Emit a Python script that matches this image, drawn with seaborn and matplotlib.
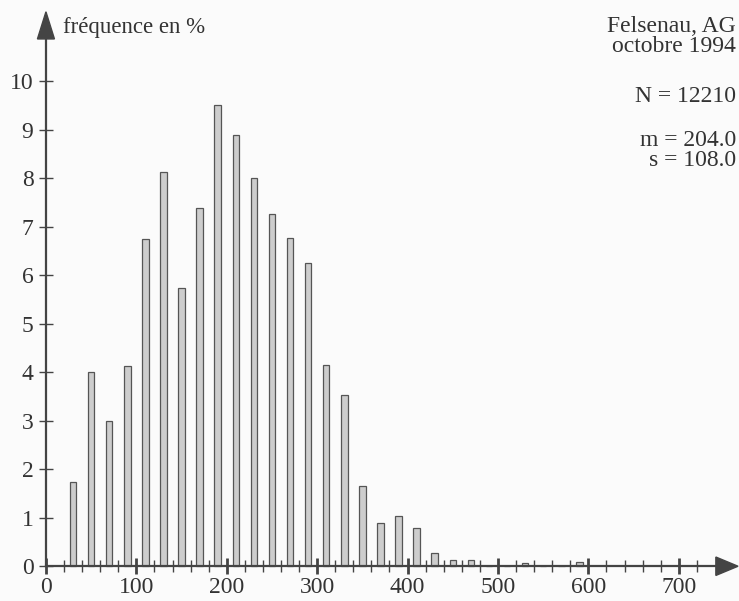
import numpy as np
import matplotlib
matplotlib.use("Agg")
import matplotlib.pyplot as plt
from matplotlib.patches import Polygon
from matplotlib.ticker import FixedLocator
import pandas as pd
import seaborn as sns

# class centres and frequencies (%)
classes = [30, 50, 70, 90, 110, 130, 150, 170, 190, 210, 230, 250, 270, 290,
           310, 330, 350, 370, 390, 410, 430, 450, 470, 490, 510, 530, 550,
           570, 590]
freq = [1.74, 4.0, 3.0, 4.12, 6.75, 8.12, 5.74, 7.38, 9.5, 8.88, 8.01, 7.26,
        6.76, 6.25, 4.14, 3.53, 1.65, 0.9, 1.03, 0.79, 0.27, 0.12, 0.12, 0.0,
        0.0, 0.06, 0.0, 0.0, 0.08]
x_ticks = [0, 100, 200, 300, 400, 500, 600, 700]
y_ticks = list(range(0, 11))

info_lines = ["Felsenau, AG", "octobre 1994", "N = 12210", "m = 204.0", "s = 108.0"]
ylabel = "fréquence en %"

sns.set_style("white")
plt.rcParams['font.family'] = ['Liberation Serif', 'DejaVu Serif']
axcol = "#444444"
txtcol = "#333333"

df = pd.DataFrame({"classe": classes, "freq": freq})

fig = plt.figure(figsize=(7.39, 6.01), dpi=100, facecolor="#fbfbfb")
ax = fig.add_axes([0.0541, 0.0183, 0.9459, 0.9734])
ax.set_facecolor("#fbfbfb")

sns.barplot(data=df, x="classe", y="freq", native_scale=True, width=0.36,
            color="#cdcdcd", saturation=1, edgecolor="#555555", linewidth=0.9,
            ax=ax)

ax.set_xlim(-6.6, 766.6)
ax.set_ylim(-0.49, 11.57)

for s in ["top", "right"]:
    ax.spines[s].set_visible(False)
ax.spines["bottom"].set_position(("data", 0))
ax.spines["left"].set_position(("data", 0))
ax.spines["bottom"].set_bounds(0, 745)
ax.spines["left"].set_bounds(0, 11)
for s in ["bottom", "left"]:
    ax.spines[s].set_color(axcol)
    ax.spines[s].set_linewidth(1.6)

ax.xaxis.set_major_locator(FixedLocator(x_ticks))
ax.xaxis.set_minor_locator(FixedLocator([v for v in range(20, 740, 20) if v % 100]))
ax.set_yticks(y_ticks)
ax.tick_params(axis="both", which="both", bottom=True, left=True)
ax.tick_params(axis="x", which="major", direction="inout", length=12, width=2,
               color=axcol, labelsize=17, labelcolor=txtcol, pad=2)
ax.tick_params(axis="x", which="minor", direction="inout", length=9, width=1,
               color=axcol)
ax.tick_params(axis="y", which="major", direction="inout", length=10, width=1,
               color=axcol, labelsize=17, labelcolor=txtcol, pad=4)
ax.set_xlabel("")
ax.set_ylabel("")

# arrow heads
ax.add_patch(Polygon([[765.5, 0], [741, 0.19], [741, -0.19]], closed=True,
                     facecolor=axcol, edgecolor=axcol, clip_on=False, zorder=5))
ax.add_patch(Polygon([[0, 11.43], [-9.4, 10.87], [9.4, 10.87]], closed=True,
                     facecolor=axcol, edgecolor=axcol, clip_on=False, zorder=5))

fig.text(63 / 739, 1 - 27 / 601, ylabel, fontsize=16.5, color=txtcol,
         ha="left", va="center")

ys = [27, 47, 97, 140, 160]
for line, y in zip(info_lines, ys):
    fig.text(736 / 739, 1 - y / 601, line, fontsize=17, color=txtcol,
             ha="right", va="center")

fig.savefig("out.png", dpi=100, facecolor=fig.get_facecolor())
